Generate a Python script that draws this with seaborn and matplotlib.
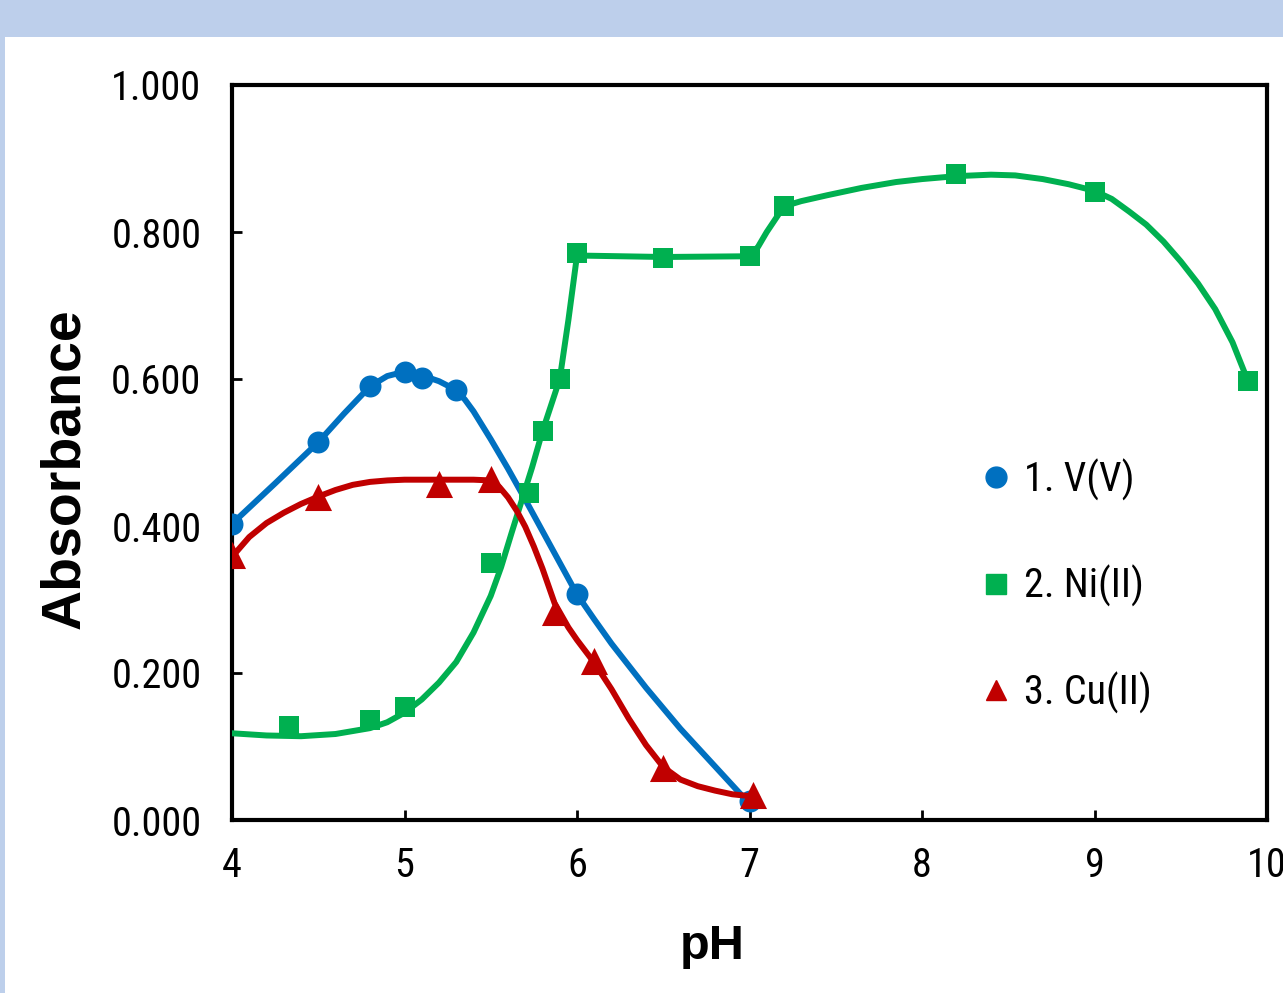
import matplotlib
matplotlib.use("Agg")
from matplotlib import pyplot as plt
from matplotlib.lines import Line2D
from matplotlib.patches import Rectangle
import seaborn as sns

# measured points (markers)
v_ph = [4.0, 4.5, 4.8, 5.0, 5.1, 5.3, 6.0, 7.0]
v_abs = [0.403, 0.514, 0.590, 0.610, 0.601, 0.585, 0.307, 0.026]

ni_ph = [4.33, 4.8, 5.0, 5.5, 5.72, 5.8, 5.9, 6.0, 6.5, 7.0, 7.2, 8.2, 9.0, 9.89]
ni_abs = [0.128, 0.136, 0.154, 0.350, 0.445, 0.529, 0.600, 0.771, 0.765, 0.767,
          0.835, 0.879, 0.855, 0.597]

cu_ph = [4.0, 4.5, 5.2, 5.5, 5.87, 6.1, 6.5, 7.02]
cu_abs = [0.360, 0.440, 0.457, 0.464, 0.283, 0.216, 0.071, 0.034]

# smoothed curves
v_curve_ph = [4.0, 4.25, 4.5, 4.65, 4.8, 4.9, 5.0, 5.05, 5.1, 5.2, 5.3, 5.35, 5.4,
              5.5, 5.6, 5.7, 5.8, 5.9, 6.0, 6.1, 6.2, 6.4, 6.6, 6.8, 7.0]
v_curve_abs = [0.403, 0.458, 0.514, 0.553, 0.590, 0.604, 0.610, 0.609, 0.605, 0.597,
               0.585, 0.572, 0.556, 0.518, 0.478, 0.436, 0.393, 0.350, 0.307, 0.273,
               0.240, 0.180, 0.124, 0.073, 0.022]

ni_curve_ph = [4.0, 4.2, 4.4, 4.6, 4.8, 4.9, 5.0, 5.1, 5.2, 5.3, 5.4, 5.5, 5.56,
               5.62, 5.68, 5.74, 5.8, 5.9, 5.95, 6.0, 6.5, 7.0, 7.05, 7.1, 7.2, 7.3,
               7.45, 7.65, 7.85, 8.0, 8.2, 8.4, 8.54, 8.7, 8.85, 9.0, 9.1, 9.2, 9.3,
               9.4, 9.5, 9.6, 9.7, 9.8, 9.89]
ni_curve_abs = [0.118, 0.115, 0.114, 0.117, 0.125, 0.133, 0.146, 0.164, 0.187, 0.215,
                0.255, 0.305, 0.344, 0.390, 0.435, 0.480, 0.529, 0.600, 0.680, 0.768,
                0.766, 0.767, 0.780, 0.800, 0.835, 0.842, 0.850, 0.860, 0.868, 0.872,
                0.876, 0.878, 0.877, 0.872, 0.865, 0.856, 0.845, 0.828, 0.810, 0.787,
                0.760, 0.730, 0.695, 0.650, 0.597]

cu_curve_ph = [4.0, 4.1, 4.2, 4.3, 4.4, 4.5, 4.6, 4.7, 4.8, 4.9, 5.0, 5.2, 5.4, 5.5,
               5.55, 5.6, 5.65, 5.7, 5.75, 5.8, 5.87, 5.95, 6.0, 6.1, 6.2, 6.3, 6.4,
               6.5, 6.6, 6.7, 6.8, 6.9, 7.02]
cu_curve_abs = [0.358, 0.385, 0.404, 0.418, 0.430, 0.440, 0.449, 0.456, 0.460, 0.462,
                0.463, 0.463, 0.463, 0.462, 0.453, 0.439, 0.421, 0.399, 0.372, 0.342,
                0.295, 0.262, 0.245, 0.214, 0.178, 0.138, 0.102, 0.072, 0.055, 0.046,
                0.040, 0.035, 0.032]

labels = ["1. V(V)", "2. Ni(II)", "3. Cu(II)"]
colors = ["#0070C0", "#00B050", "#C00000"]

sns.set_style("white")
plt.rcParams["font.family"] = ["Liberation Sans Narrow", "Roboto Condensed",
                               "Liberation Sans", "DejaVu Sans"]
plt.rcParams["text.color"] = "black"

fig = plt.figure(figsize=(12.83, 9.93), dpi=100)
fig.patch.set_facecolor("#BDCFEB")
bg = Rectangle((5 / 1283, 0), 1, 956 / 993, transform=fig.transFigure,
               facecolor="white", edgecolor="none", zorder=-10)
fig.add_artist(bg)

ax = fig.add_axes([232 / 1283, 173 / 993, 1035 / 1283, 735 / 993])
ax.set_facecolor("white")

series = [
    (v_curve_ph, v_curve_abs, v_ph, v_abs, "o", 250),
    (ni_curve_ph, ni_curve_abs, ni_ph, ni_abs, "s", 215),
    (cu_curve_ph, cu_curve_abs, cu_ph, cu_abs, "^", 380),
]
for i, (cx, cy, px, py, mk, size) in enumerate(series):
    sns.lineplot(x=cx, y=cy, color=colors[i], lw=4.3, sort=False, estimator=None,
                 ax=ax, zorder=3 + 2 * i)
    sns.scatterplot(x=px, y=py, color=colors[i], marker=mk, s=size, linewidth=0,
                    ax=ax, zorder=4 + 2 * i, legend=False)

ax.set_xlim(4, 10)
ax.set_ylim(0, 1)
ax.set_xticks([4, 5, 6, 7, 8, 9, 10])
ax.set_yticks([0, 0.2, 0.4, 0.6, 0.8, 1.0])
ax.set_yticklabels([f"{t:.3f}" for t in [0, 0.2, 0.4, 0.6, 0.8, 1.0]])
ax.tick_params(axis="both", direction="in", length=7, width=2, labelsize=29,
               colors="black", labelcolor="black")
ax.tick_params(axis="y", pad=22, left=True)
ax.tick_params(axis="x", pad=19, bottom=True)
for sp in ax.spines.values():
    sp.set_color("black")
    sp.set_linewidth(3)

ax.set_xlabel("pH", fontsize=35, fontweight="bold", color="black",
              family=["Liberation Sans", "DejaVu Sans"])
ax.xaxis.set_label_coords(0.464, -0.172)
ax.xaxis.label.set_va("center")
ax.set_ylabel("Absorbance", fontsize=40, fontweight="bold", color="black",
              family=["Liberation Sans", "DejaVu Sans"])
ax.yaxis.set_label_coords(-0.161, 0.478)
ax.yaxis.label.set_va("center")

handles = [
    Line2D([], [], ls="none", marker="o", color=colors[0], markersize=15),
    Line2D([], [], ls="none", marker="s", color=colors[1], markersize=14),
    Line2D([], [], ls="none", marker="^", color=colors[2], markersize=15),
]
leg = ax.legend(handles, labels, loc="center left", bbox_to_anchor=(0.725, 0.318),
                frameon=False, fontsize=29, handlelength=0.7, handletextpad=0.34,
                labelspacing=1.6, borderpad=0, borderaxespad=0)
for t in leg.get_texts():
    t.set_color("black")

fig.savefig("out.png", dpi=100, facecolor=fig.get_facecolor())
